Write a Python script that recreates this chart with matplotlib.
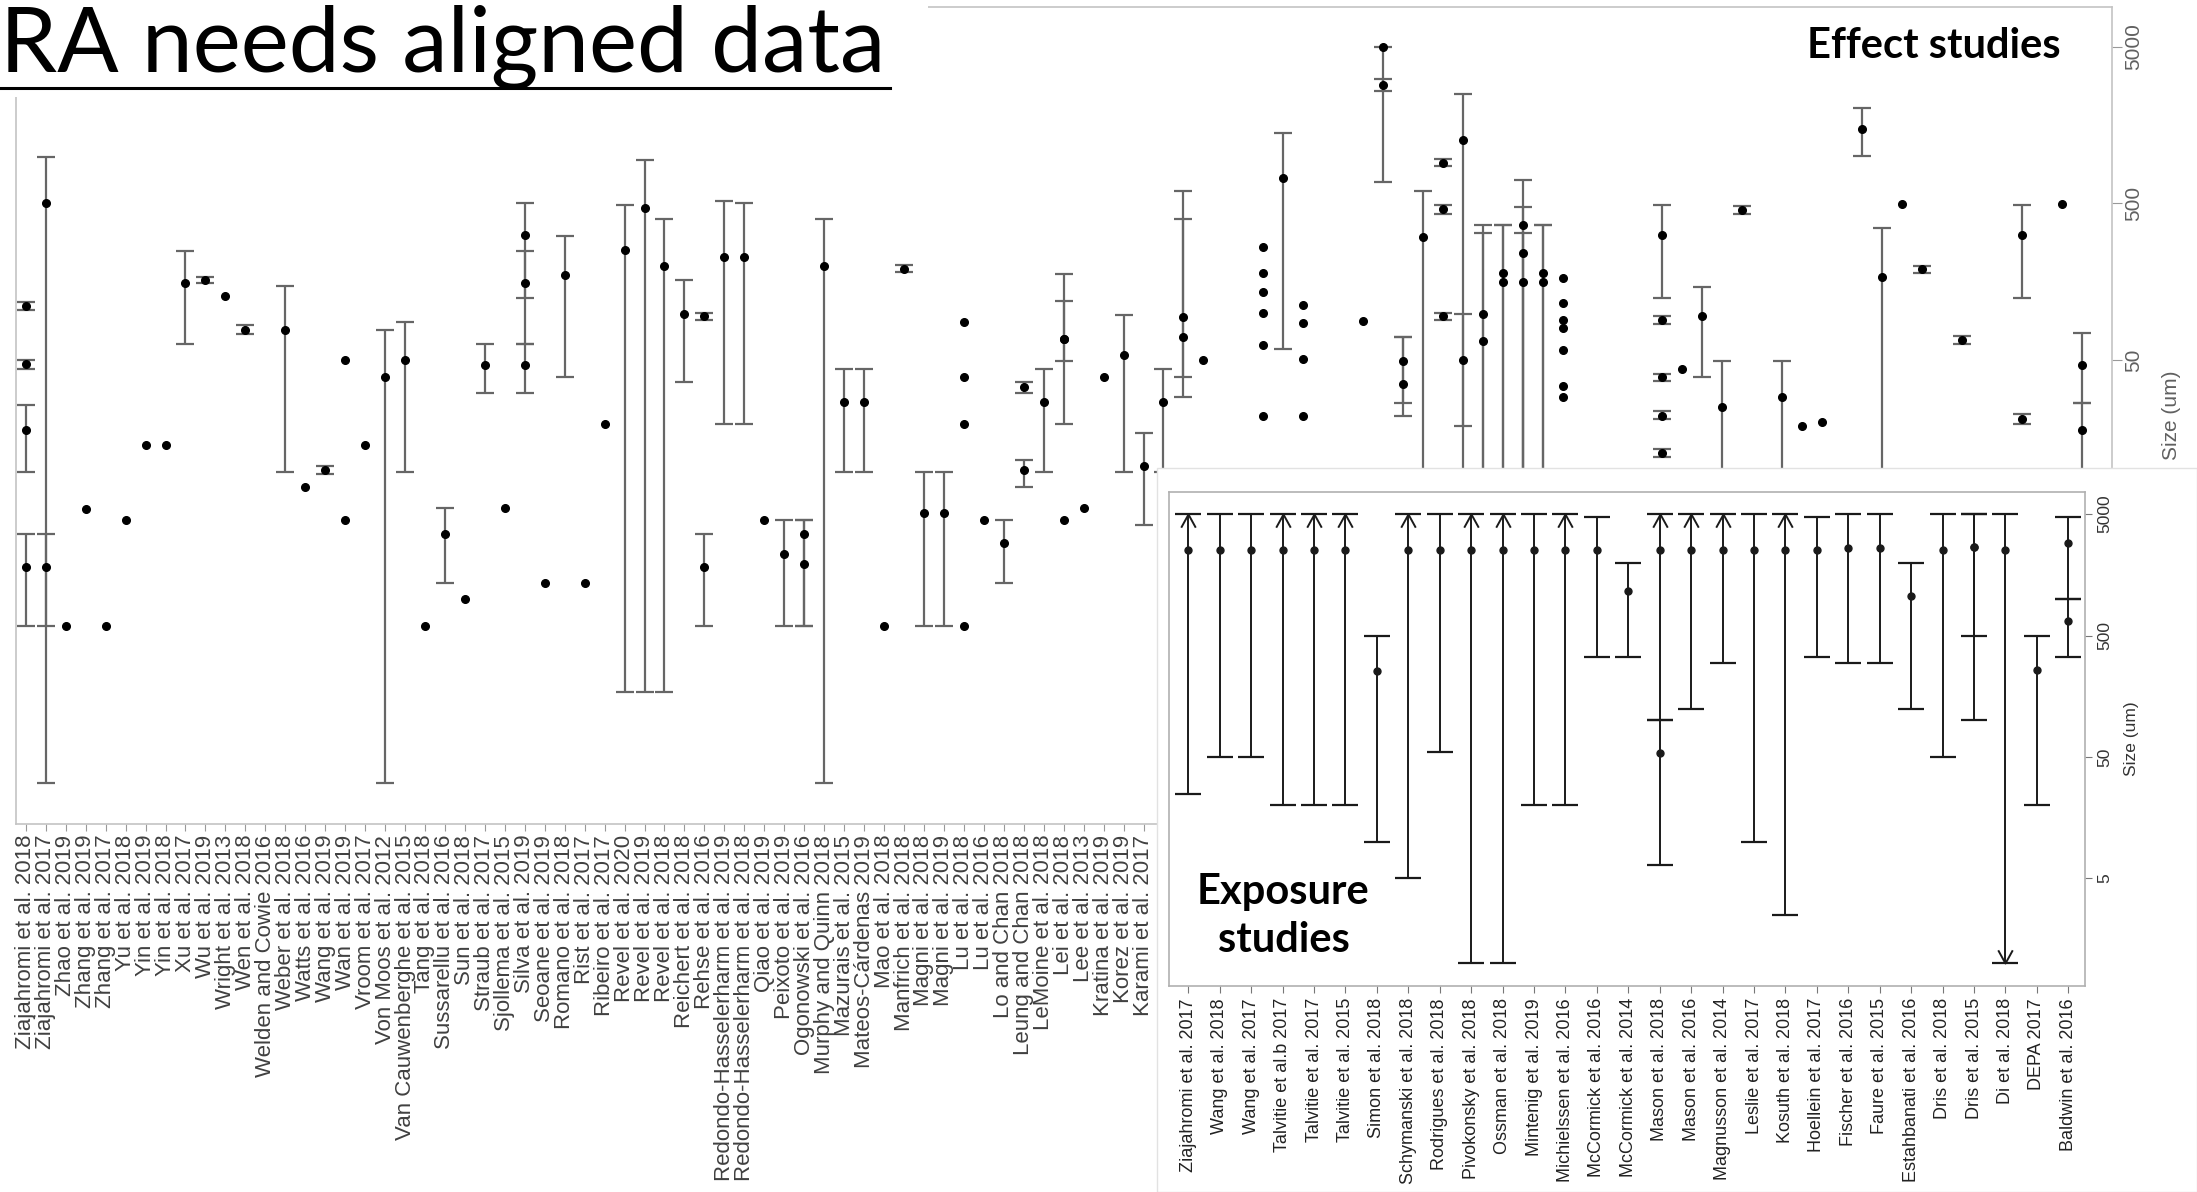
import numpy as np
import matplotlib
matplotlib.use('Agg')
import matplotlib.pyplot as plt
from matplotlib.path import Path
from matplotlib.patches import Rectangle
from matplotlib.lines import Line2D
from matplotlib.ticker import NullLocator

plt.rcParams['font.family'] = ['Liberation Sans', 'DejaVu Sans']

title = 'RA needs aligned data'

# effect studies: the readable labels, the remaining ones sit under the inset
eff_labels = [
    'Ziajahromi et al. 2018', 'Ziajahromi et al. 2017', 'Zhao et al. 2019', 'Zhang et al. 2019',
    'Zhang et al. 2017', 'Yu et al. 2018', 'Yin et al. 2019', 'Yin et al. 2018', 'Xu et al. 2017',
    'Wu et al. 2019', 'Wright et al. 2013', 'Wen et al. 2018', 'Welden and Cowie 2016',
    'Weber et al. 2018', 'Watts et al. 2016', 'Wang et al. 2019', 'Wan et al. 2019',
    'Vroom et al. 2017', 'Von Moos et al. 2012', 'Van Cauwenberghe et al. 2015', 'Tang et al. 2018',
    'Sussarellu et al. 2016', 'Sun et al. 2018', 'Straub et al. 2017', 'Sjollema et al. 2015',
    'Silva et al. 2019', 'Seoane et al. 2019', 'Romano et al. 2018', 'Rist et al. 2017',
    'Ribeiro et al. 2017', 'Revel et al. 2020', 'Revel et al. 2019', 'Revel et al. 2018',
    'Reichert et al. 2018', 'Rehse et al. 2016', 'Redondo-Hasselerharm et al. 2019',
    'Redondo-Hasselerharm et al. 2018', 'Qiao et al. 2019', 'Peixoto et al. 2019',
    'Ogonowski et al. 2016', 'Murphy and Quinn 2018', 'Mazurais et al. 2015',
    'Mateos-Cárdenas 2019', 'Mao et al. 2018', 'Manfrich et al. 2018', 'Magni et al. 2018',
    'Magni et al. 2019', 'Lu et al. 2018', 'Lu et al. 2016', 'Lo and Chan 2018',
    'Leung and Chan 2018', 'LeMoine et al. 2018', 'Lei et al. 2018', 'Lee et al. 2013',
    'Kratina et al. 2019', 'Korez et al. 2019', 'Karami et al. 2017',
]
n_eff = 105
eff_names = eff_labels + [''] * (n_eff - len(eff_labels))

nan = np.nan
# one entry per endpoint: study index, size (um), lower / upper size range
eff_cat = [1, 1, 1, 1, 2, 2, 3, 4, 5, 6, 7, 8, 9, 10, 11, 12, 14, 15, 16, 17, 17, 18, 19, 20,
           21, 22, 23, 24, 25, 26, 26, 26, 27, 28, 29, 30, 31, 32, 33, 34, 35, 35, 36, 37, 38,
           39, 40, 40, 41, 42, 43, 44, 45, 46, 47, 48, 48, 48, 48, 49, 50, 51, 51, 52, 53, 53,
           53, 54, 55, 56, 57, 58, 59, 59, 60, 63, 63, 63, 63, 63, 63, 64, 65, 65, 65, 65, 68,
           69, 69, 70, 70, 71, 72, 72, 72, 73, 73, 74, 74, 75, 75, 76, 76, 76, 77, 77,
           78, 78, 78, 78, 78, 78, 78, 83, 83, 83, 83, 83, 84, 85, 86, 87, 89, 90, 91, 93, 94,
           95, 96, 98, 101, 101, 103, 104, 104]
eff_mid = [111, 47, 18, 2.4, 500, 2.4, 1.0, 5.6, 1.0, 4.8, 14.4, 14.4, 155, 163, 128, 78, 78, 7.7,
           10, 50, 4.8, 14.4, 39, 50, 1.0, 3.9, 1.5, 46.5, 5.7, 314, 155, 46.5, 1.9, 174, 1.9,
           19.4, 251, 469, 199, 98, 95, 2.4, 227, 227, 4.8, 2.9, 3.9, 2.5, 199, 27, 27, 1.0,
           192, 5.3, 5.3, 88, 39, 19.4, 1.0, 4.8, 3.4, 33.5, 10, 27, 68, 68, 4.8, 5.7, 39, 54,
           10.5, 27, 93.5, 70, 50, 265, 181, 135, 100, 62, 22, 729, 112, 86, 51, 22, 89,
           5000, 2850, 49.5, 35, 303, 909, 458, 95, 1270, 50, 99, 66, 179, 158, 364, 240, 158,
           179, 158, 166, 115, 90, 80, 58, 34, 29, 314, 90, 39, 22, 12.7, 44, 95, 25, 453, 29,
           19, 20, 1500, 170, 495, 190, 67, 314, 21, 495, 46.5, 18]
eff_lo = [104, 44, 9.7, 1.0, 0.1, 1.0, nan, nan, nan, nan, nan, nan, 63, 156, nan, 73, 9.7, nan,
          9.4, nan, nan, nan, 0.1, 9.7, nan, 1.9, nan, 31, nan, 125, 63, 31, nan, 39, nan,
          nan, 0.38, 0.38, 0.38, 36, 90, 1.0, 19.4, 19.4, nan, 1.0, 1.0, 1.0, 0.1, 9.7, 9.7, nan,
          182, 1.0, 1.0, nan, nan, nan, nan, nan, 1.9, 31, 7.7, 9.7, 49, 19.4, nan, nan, nan, 9.7,
          4.45, 9.7, 39, 29, nan, nan, nan, nan, nan, nan, nan, 59, nan, nan, nan, nan, nan,
          687, 2600, 26.5, 22, 0.5, 860, 430, 90, 0.5, 19, 0.5, 0.5, 0.5, 0.5, 0.5, 0.5, 0.5,
          0.5, 0.5, nan, nan, nan, nan, nan, nan, nan, 124, 85, 37, 21, 12, nan, 39, 1.0, 430, 1.0,
          nan, nan, 1000, 0.5, nan, 180, 63, 124, 19.5, nan, 26.5, 0.5]
eff_hi = [118, 50, 26, 3.9, 990, 3.9, nan, nan, nan, nan, nan, nan, 247, 170, nan, 84, 148, nan,
          10.6, nan, nan, nan, 78, 88, nan, 5.7, nan, 63, nan, 500, 247, 63, nan, 310, nan,
          nan, 489, 951, 399, 163, 100, 3.9, 514, 500, nan, 4.8, 4.8, 4.8, 399, 44, 44, nan,
          202, 9.7, 9.7, nan, nan, nan, nan, nan, 4.8, 36, 11.5, 44, 176, 119, nan, nan, nan, 97,
          17, 44, 602, 399, nan, nan, nan, nan, nan, nan, nan, 1400, nan, nan, nan, nan, nan,
          5000, 3100, 70.5, 70.5, 602, 960, 490, 100, 2480, 99, 364, 322, 364, 364, 704, 476, 322,
          364, 364, nan, nan, nan, nan, nan, nan, nan, 488, 95, 41, 23.5, 13.5, nan, 147, 49.5, 480,
          49.5, nan, nan, 2020, 346, nan, 200, 71, 488, 22.5, nan, 74, 26.5]

# exposure studies (inset)
exp_labels = [
    'Ziajahromi et al. 2017', 'Wang et al. 2018', 'Wang et al. 2017', 'Talvitie et al.b 2017',
    'Talvitie et al. 2017', 'Talvitie et al. 2015', 'Simon et al. 2018', 'Schymanski et al. 2018',
    'Rodrigues et al. 2018', 'Pivokonsky et al. 2018', 'Ossman et al. 2018', 'Mintenig et al. 2019',
    'Michielssen et al. 2016', 'McCormick et al. 2016', 'McCormick et al. 2014', 'Mason et al. 2018',
    'Mason et al. 2016', 'Magnusson et al. 2014', 'Leslie et al. 2017', 'Kosuth et al. 2018',
    'Hoellein et al. 2017', 'Fischer et al. 2016', 'Faure et al. 2015', 'Estahbanati et al. 2016',
    'Dris et al. 2018', 'Dris et al. 2015', 'Di et al. 2018', 'DEPA 2017', 'Baldwin et al. 2016',
]
exp_cat = [1, 2, 3, 4, 5, 6, 7, 8, 9, 10, 11, 12, 13, 14, 15, 16, 16, 17, 18, 19, 20, 21, 22, 23,
           24, 25, 26, 26, 27, 28, 29, 29]
exp_mid = [2540, 2540, 2540, 2540, 2540, 2540, 254, 2540, 2540, 2540, 2540, 2540, 2540, 2540, 1166,
           2540, 53.5, 2540, 2540, 2540, 2540, 2540, 2620, 2620, 1068, 2540, 2680, 2680, 2540, 258,
           2870, 665]
exp_lo = [25, 50, 50, 20, 20, 20, 10, 5, 55, 1, 1, 20, 20, 333, 333, 100, 6.5, 125, 297, 10, 2.5,
          333, 297, 297, 125, 50, 100, 500, 1, 20, 998, 333]
exp_hi = [5000, 5000, 5000, 5000, 5000, 5000, 500, 5000, 5000, 5000, 5000, 5000, 5000, 4775, 1990,
          5000, 100, 5000, 5000, 5000, 5000, 4775, 5000, 5000, 1990, 5000, 5000, 5000, 5000, 500,
          4775, 998]
# studies whose range runs past the plotted limit (drawn with an arrow head)
exp_up = [1, 4, 5, 6, 8, 10, 11, 13, 16, 17, 18, 20]
exp_down = [27]

fig = plt.figure(figsize=(21.97, 11.92), dpi=100)

# ---- effect studies (background plot)
ax = fig.add_axes([0.0072, 0.309, 0.9539, 0.6854], zorder=0)
ax.set_yscale('log')
c = np.array(eff_cat, float)
m = np.array(eff_mid, float)
lo = np.array(eff_lo, float)
hi = np.array(eff_hi, float)
bar = ~np.isnan(lo)
ax.errorbar(c[bar], m[bar], yerr=[m[bar] - lo[bar], hi[bar] - m[bar]], fmt='none',
            ecolor='#666666', elinewidth=1.6, capsize=6.4, capthick=1.6)
ax.plot(c, m, 'o', color='black', ms=5.5, zorder=3)

ax.set_xlim(0.5, n_eff + 0.5)
ax.set_ylim(0.055, 9000)
ax.set_xticks(np.arange(1, n_eff + 1))
ax.set_xticklabels(eff_names, rotation=90, fontsize=16, color='#404040')
ax.tick_params(axis='x', length=5, color='#999999', pad=3)
ax.yaxis.tick_right()
ax.yaxis.set_label_position('right')
ax.set_yticks([0.5, 5, 50, 500, 5000])
ax.set_yticklabels(['0.5', '5', '50', '500', '5000'], rotation=90, va='center',
                   fontsize=15, color='#606060')
ax.yaxis.set_minor_locator(NullLocator())
ax.tick_params(axis='y', length=7, color='#999999', pad=2)
ax.set_ylabel('Size (um)', fontsize=15, color='#606060', labelpad=14)
for s in ax.spines.values():
    s.set_color('#c4c4c4')
    s.set_linewidth(1.2)

# white panel that holds the inset
fig.add_artist(Rectangle((0.5268, 0), 0.4732, 0.6075, transform=fig.transFigure,
                         facecolor='white', edgecolor='#e2e2e2', lw=1, zorder=1))

# ---- exposure studies (inset)
ax2 = fig.add_axes([0.532, 0.1732, 0.417, 0.414], zorder=2)
ax2.set_yscale('log')
c2 = np.array(exp_cat, float)
m2 = np.array(exp_mid, float)
lo2 = np.array(exp_lo, float)
hi2 = np.array(exp_hi, float)
ax2.errorbar(c2, m2, yerr=[m2 - lo2, hi2 - m2], fmt='o', color='#1a1a1a', ms=5,
             ecolor='#1a1a1a', elinewidth=1.4, capsize=9.6, capthick=1.6)

up_head = Path([(-0.55, -1), (0, 0), (0.55, -1)], [Path.MOVETO, Path.LINETO, Path.LINETO])
down_head = Path([(-0.55, 1), (0, 0), (0.55, 1)], [Path.MOVETO, Path.LINETO, Path.LINETO])
up_y = [max(h for cc, h in zip(exp_cat, exp_hi) if cc == k) for k in exp_up]
dn_y = [min(l for cc, l in zip(exp_cat, exp_lo) if cc == k) for k in exp_down]
ax2.plot(exp_up, up_y, ls='none', marker=up_head, ms=19, mfc='none', mec='#1a1a1a', mew=1.4)
ax2.plot(exp_down, dn_y, ls='none', marker=down_head, ms=19, mfc='none', mec='#1a1a1a', mew=1.4)

ax2.set_xlim(0.38, 29.53)
ax2.set_ylim(0.656, 7600)
ax2.set_xticks(np.arange(1, len(exp_labels) + 1))
ax2.set_xticklabels(exp_labels, rotation=90, fontsize=13, color='#222222')
ax2.tick_params(axis='x', length=5, color='#777777', pad=4)
ax2.yaxis.tick_right()
ax2.yaxis.set_label_position('right')
ax2.set_yticks([5, 50, 500, 5000])
ax2.set_yticklabels(['5', '50', '500', '5000'], rotation=90, va='center', fontsize=12.5,
                    color='#333333')
ax2.yaxis.set_minor_locator(NullLocator())
ax2.tick_params(axis='y', length=5, color='#777777', pad=4)
ax2.set_ylabel('Size (um)', fontsize=12.5, color='#333333', labelpad=8)
for s in ax2.spines.values():
    s.set_color('#b0b0b0')
    s.set_linewidth(1.2)

# ---- slide text
fig.add_artist(Rectangle((0, 0.9189), 0.4222, 0.0811, transform=fig.transFigure,
                         facecolor='white', edgecolor='none', zorder=3))
fig.text(0.0, 0.940, title, fontsize=65.5, family=['Lato', 'DejaVu Sans'], fontweight='normal',
         ha='left', va='baseline', zorder=4)
fig.add_artist(Line2D([0, 0.405], [0.926, 0.926], transform=fig.transFigure, color='black',
                      lw=2.2, zorder=4))
fig.text(0.8801, 0.9612, 'Effect studies', fontsize=30, family=['Lato', 'DejaVu Sans'],
         fontweight='bold', ha='center', va='center', zorder=4)
fig.text(0.5842, 0.2315, 'Exposure\nstudies', fontsize=30, family=['Lato', 'DejaVu Sans'],
         fontweight='bold', ha='center', va='center', multialignment='center',
         linespacing=1.3, zorder=5)

fig.savefig('out.png', dpi=100)
